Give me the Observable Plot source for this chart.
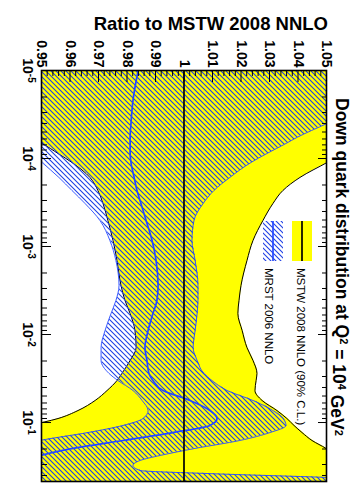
<!DOCTYPE html>
<html>
<head>
<meta charset="utf-8">
<script src="https://cdn.jsdelivr.net/npm/d3@7"></script>
<script src="https://cdn.jsdelivr.net/npm/@observablehq/plot@0.6"></script>
<style>
  html, body { margin: 0; padding: 0; background: #fff; width: 360px; height: 483px; overflow: hidden; }
  /* the plot is laid out landscape and turned a quarter clockwise */
  #chart { position: absolute; left: 0; top: 0; width: 483px; height: 360px;
           transform-origin: 0 0; transform: translate(360px, 0) rotate(90deg); }
</style>
</head>
<body>
<div id="chart"></div>
<script>
// Momentum fraction x at which the band edges are sampled
const xGrid = [1.0e-5, 2.19e-5, 4.0e-5, 5.77e-5, 6.75e-5, 8.77e-5, 1.11e-4, 1.64e-4, 2.31e-4, 3.25e-4,
  5.06e-4, 8.55e-4, 1.44e-3, 2.77e-3, 4.11e-3, 5.77e-3, 9.0e-3, 0.0141, 0.0197, 0.0277,
  0.0333, 0.0433, 0.0562, 0.0731, 0.0901, 0.108, 0.130, 0.160, 0.197, 0.237,
  0.270, 0.308, 0.351, 0.380, 0.422, 0.468];

// MSTW 2008 NNLO 90% C.L. band, as a ratio to its own central value
const mstwLow = [0.9039, 0.9249, 0.9372, 0.9460, 0.9502, 0.9558, 0.9607, 0.9670, 0.9698, 0.9716,
  0.9733, 0.9751, 0.9765, 0.9779, 0.9793, 0.9811, 0.9828, 0.9832, 0.9811, 0.9782,
  0.9765, 0.9730, 0.9688, 0.9628, 0.9558, 0.9460, 0.9389, 0.9319, 0.9249, 0.9196,
  0.9161, 0.9126, 0.9091, 0.9074, 0.9056, 0.9039];
const mstwHigh = [1.1039, 1.0898, 1.0758, 1.0670, 1.0625, 1.0558, 1.0502, 1.0407, 1.0347, 1.0312,
  1.0277, 1.0242, 1.0221, 1.0200, 1.0193, 1.0189, 1.0204, 1.0221, 1.0242, 1.0256,
  1.0253, 1.0249, 1.0274, 1.0326, 1.0361, 1.0386, 1.0414, 1.0449, 1.0498, 1.0530,
  1.0554, 1.0582, 1.0611, 1.0625, 1.0646, 1.0670];

// MRST 2006 NNLO central value and uncertainty band, same normalisation
const mrstCentral = [0.9839, 0.9821, 0.9814, 0.9811, 0.9811, 0.9811, 0.9814, 0.9825, 0.9835, 0.9849,
  0.9867, 0.9888, 0.9902, 0.9909, 0.9905, 0.9891, 0.9874, 0.9863, 0.9870, 0.9877,
  0.9891, 0.9926, 1.0021, 1.0091, 1.0116, 1.0091, 0.9961, 0.9786, 0.9611, 0.9495,
  0.9425, 0.9354, 0.9284, 0.9249, 0.9196, 0.9144];
const mrstLow = [0.9144, 0.9267, 0.9354, 0.9407, 0.9432, 0.9467, 0.9502, 0.9561, 0.9607, 0.9653,
  0.9705, 0.9740, 0.9761, 0.9772, 0.9761, 0.9744, 0.9723, 0.9709, 0.9709, 0.9737,
  0.9768, 0.9821, 0.9853, 0.9874, 0.9856, 0.9786, 0.9663, 0.9495, 0.9389, 0.9319,
  0.9267, 0.9214, 0.9161, 0.9126, 0.9074, 0.9004];
const mrstHigh = [1.0898, 1.0674, 1.0502, 1.0396, 1.0358, 1.0291, 1.0235, 1.0161, 1.0105, 1.0067,
  1.0035, 1.0028, 1.0039, 1.0049, 1.0049, 1.0046, 1.0039, 1.0032, 1.0046, 1.0070,
  1.0098, 1.0151, 1.0242, 1.0312, 1.0347, 1.0358, 1.0302, 1.0196, 1.0039, 0.9916,
  0.9846, 0.9821, 0.9846, 1.0081, 1.0512, 1.0828];

// Axis ticks and their labels
const ratioTicks = [0.95, 0.96, 0.97, 0.98, 0.99, 1.00, 1.01, 1.02, 1.03, 1.04, 1.05];
const ratioTickLabels = ["0.95", "0.96", "0.97", "0.98", "0.99", "1", "1.01", "1.02", "1.03", "1.04", "1.05"];
const xTicks = [1e-5, 1e-4, 1e-3, 1e-2, 1e-1];
const xTickExponents = ["-5", "-4", "-3", "-2", "-1"];
const xDomain = [1e-5, 0.468];

const W = 483, H = 360;
const M = {left: 70, right: 2, top: 33, bottom: 42};
const frameW = W - M.left - M.right;
const frameH = H - M.top - M.bottom;

const rows = xGrid.map((x, i) => ({
  x, mstwLow: mstwLow[i], mstwHigh: mstwHigh[i],
  mrstLow: mrstLow[i], mrstHigh: mrstHigh[i], mrstCentral: mrstCentral[i]
}));

const minorRatio = d3.range(51).filter(i => i % 5 !== 0).map(i => 0.95 + i * 0.002);
const minorX = [];
for (let e = -5; e <= -1; e++) for (let k = 2; k <= 9; k++) {
  const v = k * Math.pow(10, e);
  if (v <= xDomain[1]) minorX.push(v);
}

const curve = "monotone-x";
const BLUE = "#2448ff";
const font = '"Liberation Sans", Arial, Helvetica, sans-serif';

const svg = Plot.plot({
  width: W, height: H,
  marginLeft: M.left, marginRight: M.right, marginTop: M.top, marginBottom: M.bottom,
  style: {fontFamily: font, background: "white", color: "black"},
  x: {type: "log", domain: xDomain},
  y: {domain: [0.95, 1.05]},
  marks: [
    Plot.areaY(rows, {x: "x", y1: "mstwLow", y2: "mstwHigh", fill: "#ffff00", curve, clip: true}),
    Plot.line(rows, {x: "x", y: "mstwLow", stroke: "black", strokeWidth: 1, curve, clip: true}),
    Plot.line(rows, {x: "x", y: "mstwHigh", stroke: "black", strokeWidth: 1, curve, clip: true}),
    Plot.areaY(rows, {x: "x", y1: "mrstLow", y2: "mrstHigh", fill: "url(#mrst-hatch)", curve, clip: true}),
    Plot.line(rows, {x: "x", y: "mrstLow", stroke: BLUE, strokeWidth: 0.9, curve, clip: true}),
    Plot.line(rows, {x: "x", y: "mrstHigh", stroke: BLUE, strokeWidth: 0.9, curve, clip: true}),
    Plot.line(rows, {x: "x", y: "mrstCentral", stroke: BLUE, strokeWidth: 1.7, curve, clip: true}),
    Plot.ruleY([1], {stroke: "black", strokeWidth: 1.7}),
    // inward ticks on all sides of the frame
    Plot.tickY(ratioTicks, {y: d => d, insetRight: frameW - 12, stroke: "black"}),
    Plot.tickY(minorRatio, {y: d => d, insetRight: frameW - 6, stroke: "black"}),
    Plot.tickX(xTicks, {x: d => d, insetTop: frameH - 9, stroke: "black"}),
    Plot.tickX(xTicks, {x: d => d, insetBottom: frameH - 9, stroke: "black"}),
    Plot.tickX(minorX, {x: d => d, insetTop: frameH - 5, stroke: "black"}),
    Plot.tickX(minorX, {x: d => d, insetBottom: frameH - 5, stroke: "black"}),
    Plot.frame({stroke: "black", strokeWidth: 1.6}),
    Plot.axisY(ratioTicks, {anchor: "left", tickSize: 0, tickPadding: 3, label: null,
      tickFormat: d => ratioTickLabels[ratioTicks.indexOf(d)], fontSize: 14, fontWeight: "bold"}),
    Plot.axisX(xTicks, {anchor: "bottom", tickSize: 0, tickPadding: 9, label: null,
      tickFormat: d => "10^" + xTickExponents[xTicks.indexOf(d)], fontSize: 14, fontWeight: "bold"})
  ]
});

const s = d3.select(svg);

// hatch used for the MRST band and its legend entry
const pat = s.insert("defs", ":first-child").append("pattern")
  .attr("id", "mrst-hatch").attr("patternUnits", "userSpaceOnUse")
  .attr("width", 5).attr("height", 5);
pat.append("path").attr("d", "M-1,1 L1,-1 M0,5 L5,0 M4,6 L6,4")
  .attr("stroke", "#1f3fe6").attr("stroke-width", 1.1).attr("fill", "none");

// powers of ten as superscripts
s.selectAll('g[aria-label="x-axis tick label"] text').each(function () {
  const [base, exp] = this.textContent.split("^");
  const t = d3.select(this);
  t.text(null);
  t.append("tspan").text(base);
  t.append("tspan").attr("dy", "-0.5em").attr("font-size", "10px").text(exp);
});

// text with raised pieces; each raised piece is followed by a return to the baseline
function withSuperscripts(text, parts) {
  let raised = false;
  parts.forEach(([str, isSup]) => {
    const t = text.append("tspan").text(str);
    if (isSup) t.attr("dy", "-0.4em").attr("font-size", "11px");
    else if (raised) t.attr("dy", "0.4em");
    raised = isSup;
  });
}

const title = s.append("text")
  .attr("x", 267).attr("y", 24).attr("text-anchor", "middle")
  .attr("font-family", font).attr("font-size", 17.5).attr("font-weight", "bold").attr("fill", "black");
withSuperscripts(title, [["Down quark distribution at Q", false], ["2", true], [" = 10", false], ["4", true], [" GeV", false], ["2", true]]);

s.append("text")
  .attr("transform", "translate(30,32) rotate(-90)")
  .attr("text-anchor", "end")
  .attr("font-family", font).attr("font-size", 18.5).attr("font-weight", "bold").attr("fill", "black")
  .text("Ratio to MSTW 2008 NNLO");

// legend
const lg = s.append("g").attr("font-family", font).attr("font-size", 11.5)
  .attr("fill", "black").attr("text-anchor", "start");
lg.append("rect").attr("x", 221).attr("y", 48).attr("width", 40).attr("height", 20).attr("fill", "#ffff00");
lg.append("line").attr("x1", 221).attr("x2", 261).attr("y1", 58).attr("y2", 58)
  .attr("stroke", "black").attr("stroke-width", 1.7);
lg.append("text").attr("x", 268).attr("y", 63).text("MSTW 2008 NNLO (90% C.L.)");
lg.append("rect").attr("x", 221).attr("y", 77).attr("width", 40).attr("height", 20).attr("fill", "url(#mrst-hatch)");
lg.append("line").attr("x1", 221).attr("x2", 261).attr("y1", 87).attr("y2", 87)
  .attr("stroke", BLUE).attr("stroke-width", 1.7);
lg.append("text").attr("x", 268).attr("y", 95).text("MRST 2006 NNLO");

document.getElementById("chart").append(svg);
</script>
</body>
</html>
